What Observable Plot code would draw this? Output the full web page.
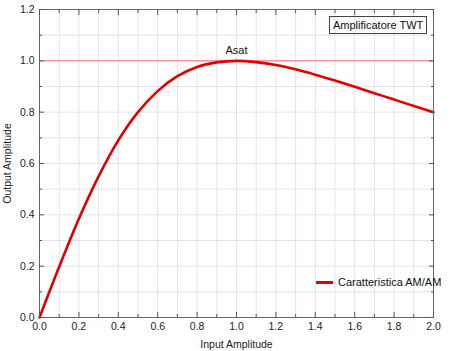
<!DOCTYPE html>
<html><head><meta charset="utf-8">
<script src="https://cdn.jsdelivr.net/npm/d3@7"></script>
<script src="https://cdn.jsdelivr.net/npm/@observablehq/plot@0.6"></script>
<style>
body{margin:0;background:#fff;font-family:"Liberation Sans",Arial,sans-serif;}
#wrap{position:relative;width:454px;height:351px;}
.box{position:absolute;font-size:11px;color:#111;}
</style></head><body>
<div id="wrap"></div>
<script>
const inputAmp = [0,0.1,0.2,0.3,0.4,0.5,0.6,0.7,0.8,0.9,1.0,1.1,1.2,1.3,1.4,1.5,1.6,1.7,1.8,1.9,2.0];
const outputAmp = [0,0.198,0.385,0.550,0.690,0.800,0.882,0.940,0.976,0.994,1.0,0.995,0.984,0.967,0.946,0.923,0.899,0.874,0.849,0.824,0.80];
const xMajor = [0,0.2,0.4,0.6,0.8,1.0,1.2,1.4,1.6,1.8,2.0];
const xMinor = [0.1,0.3,0.5,0.7,0.9,1.1,1.3,1.5,1.7,1.9];
const yMajor = [0,0.2,0.4,0.6,0.8,1.0,1.2];
const yMinor = [0.1,0.3,0.5,0.7,0.9,1.1];
const xGrid = [...xMajor, ...xMinor];
const yGrid = [...yMajor, ...yMinor];
const asat = 1.0;
const titleLabel = "Amplificatore TWT";
const seriesLabel = "Caratteristica AM/AM";

const data = inputAmp.map((x,i)=>({x, y: outputAmp[i]}));
const fmt = d3.format(".1f");
const tickColor = "#555";

const chart = Plot.plot({
  width: 454, height: 351,
  marginLeft: 39, marginRight: 21, marginTop: 9, marginBottom: 34,
  style: {fontFamily: "Liberation Sans, Arial, sans-serif", fontSize: "10.5px", color: "#222", background: "#fff"},
  x: {domain: [0, 2], label: null},
  y: {domain: [0, 1.2], label: null},
  marks: [
    Plot.gridX(xGrid, {stroke: "#e0e2f4", strokeOpacity: 1}),
    Plot.gridY(yGrid, {stroke: "#e0e2f4", strokeOpacity: 1}),
    Plot.ruleY([asat], {stroke: "#f29a9a", strokeWidth: 1.5}),
    Plot.line(data, {x: "x", y: "y", stroke: "#e00000", strokeWidth: 2.6, curve: "catmull-rom"}),
    Plot.text([asat], {x: asat, y: asat, text: () => "Asat", dy: -10, fontSize: 11, fill: "#111"}),
    Plot.frame({stroke: "#666"}),
    Plot.axisX(xMajor, {anchor: "bottom", tickSize: -5, text: null, stroke: tickColor}),
    Plot.axisX(xMinor, {anchor: "bottom", tickSize: -3, text: null, stroke: tickColor}),
    Plot.axisX(xMajor, {anchor: "top", tickSize: -5, text: null, stroke: tickColor}),
    Plot.axisX(xMinor, {anchor: "top", tickSize: -3, text: null, stroke: tickColor}),
    Plot.axisY(yMajor, {anchor: "left", tickSize: -5, text: null, stroke: tickColor}),
    Plot.axisY(yMinor, {anchor: "left", tickSize: -3, text: null, stroke: tickColor}),
    Plot.axisY(yMajor, {anchor: "right", tickSize: -5, text: null, stroke: tickColor}),
    Plot.axisY(yMinor, {anchor: "right", tickSize: -3, text: null, stroke: tickColor}),
    Plot.axisX(xMajor, {anchor: "bottom", tickSize: 0, tickPadding: 5, tickFormat: fmt, label: "Input Amplitude", labelAnchor: "center", labelOffset: 30, labelArrow: "none", fill: "#222"}),
    Plot.axisY(yMajor, {anchor: "left", tickSize: 0, tickPadding: 5, tickFormat: fmt, label: "Output Amplitude", labelAnchor: "center", labelOffset: 36, labelArrow: "none", fill: "#222"})
  ]
});
const wrap = document.getElementById("wrap");
wrap.appendChild(chart);

const t = document.createElement("div");
t.className = "box";
t.textContent = titleLabel;
Object.assign(t.style, {left: "329px", top: "16px", border: "1px solid #444", padding: "1px 3px", lineHeight: "14px"});
wrap.appendChild(t);

const lg = document.createElement("div");
lg.className = "box";
Object.assign(lg.style, {left: "316px", top: "275px", display: "flex", alignItems: "center", gap: "5px", lineHeight: "14px"});
lg.innerHTML = '<span style="display:inline-block;width:17px;height:3px;background:#e00000"></span><span></span>';
lg.lastChild.textContent = seriesLabel;
wrap.appendChild(lg);
</script>
</body></html>
